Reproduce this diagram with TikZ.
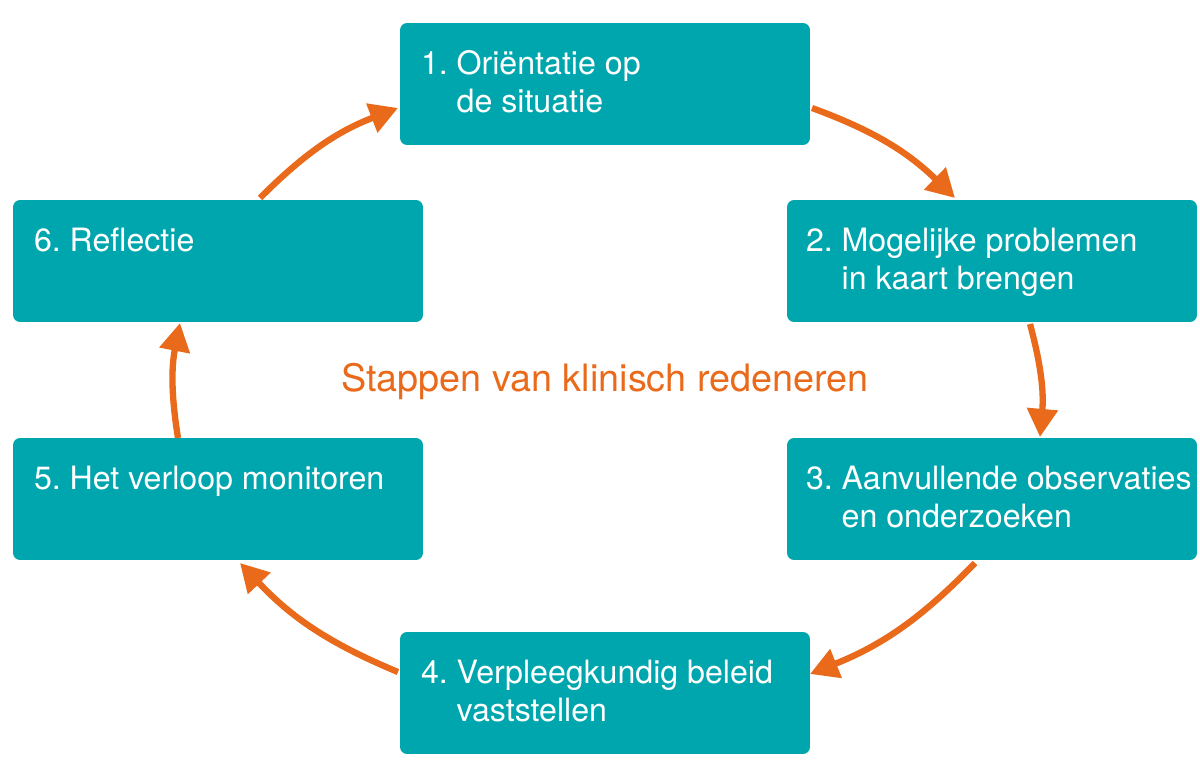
\documentclass[tikz,border=0pt]{standalone}
\usepackage{fontspec}
\setmainfont{TeX Gyre Heros}
\usetikzlibrary{arrows.meta,positioning}
\definecolor{teal}{HTML}{00A6AD}
\definecolor{oranje}{HTML}{EA6A1B}
\newcommand{\stapje}[3]{\begin{tabular}[t]{@{}l@{\hspace{5pt}}l@{}}#1&#2\\&#3\end{tabular}}
\begin{document}
\begin{tikzpicture}
  [x=0.02cm,y=-0.02cm,
   stapbox/.style={fill=teal,rounded corners=4pt,minimum width=8.2cm,minimum height=2.44cm,inner sep=0pt},
   staptekst/.style={white,anchor=north west,inner sep=0pt,font=\fontsize{18.3}{21.6}\selectfont},
   pijl/.style={oranje,line width=3.6pt,-{Triangle[length=16pt,width=17pt]}}]

  \useasboundingbox (0,0) rectangle (1200,783);

  % de zes stappen
  \node[stapbox] (s1) at (605,84) {};
  \node[stapbox] (s2) at (992,261) {};
  \node[stapbox] (s3) at (992,499) {};
  \node[stapbox] (s4) at (605,693) {};
  \node[stapbox] (s5) at (218,499) {};
  \node[stapbox] (s6) at (218,261) {};

  \node[staptekst] (t1) at ([xshift=0.42cm,yshift=-0.5cm]s1.north west) {\stapje{1.}{Oriëntatie op}{de situatie}};
  \node[staptekst] (t2) at ([xshift=0.38cm,yshift=-0.5cm]s2.north west) {\stapje{2.}{Mogelijke problemen}{in kaart brengen}};
  \node[staptekst] (t3) at ([xshift=0.38cm,yshift=-0.5cm]s3.north west) {\stapje{3.}{Aanvullende observaties}{en onderzoeken}};
  \node[staptekst] (t4) at ([xshift=0.42cm,yshift=-0.5cm]s4.north west) {\stapje{4.}{Verpleegkundig beleid}{vaststellen}};
  \node[staptekst] (t5) at ([xshift=0.42cm,yshift=-0.5cm]s5.north west) {\stapje{5.}{Het verloop monitoren}{}};
  \node[staptekst] (t6) at ([xshift=0.42cm,yshift=-0.5cm]s6.north west) {\stapje{6.}{Reflectie}{}};

  \node[oranje,font=\fontsize{21.5}{24}\selectfont] (titel) at (605,382) {Stappen van klinisch redeneren};

  % pijlen tussen de stappen
  \coordinate (a1) at (812,108);  \coordinate (b1) at (955,198);
  \coordinate (a2) at (1030,324); \coordinate (b2) at (1040,437);
  \coordinate (a3) at (975,563);  \coordinate (b3) at (810,674);
  \coordinate (a4) at (398,672);  \coordinate (b4) at (240,563);
  \coordinate (a5) at (178,438);  \coordinate (b5) at (180,323);
  \coordinate (a6) at (260,198);  \coordinate (b6) at (398,108);

  \draw[pijl] (a1) to[bend left=12] (b1);
  \draw[pijl] (a2) to[bend left=10] (b2);
  \draw[pijl] (a3) to[bend left=12] (b3);
  \draw[pijl] (a4) to[bend left=12] (b4);
  \draw[pijl] (a5) to[bend left=10] (b5);
  \draw[pijl] (a6) to[bend left=12] (b6);
\end{tikzpicture}
\end{document}
